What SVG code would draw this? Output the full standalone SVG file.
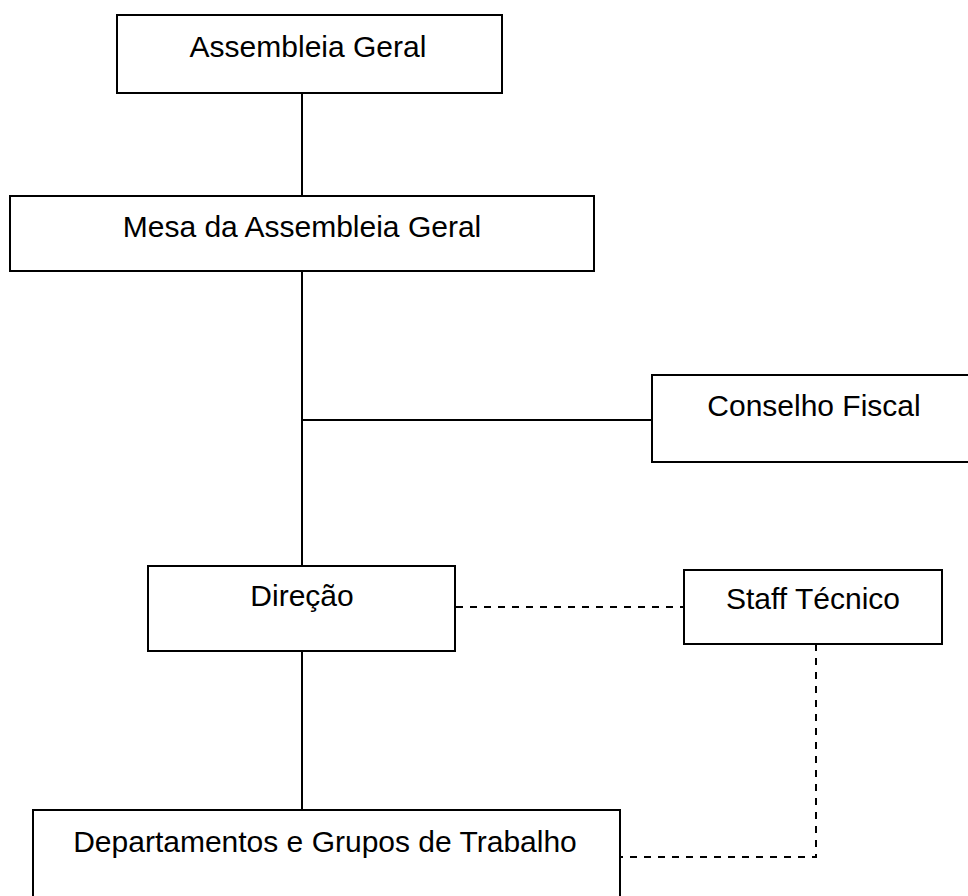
<svg xmlns="http://www.w3.org/2000/svg" width="968" height="896" viewBox="0 0 968 896">
<style>
.box{fill:#fff;stroke:#000;stroke-width:2}
.lbl{font-family:"Liberation Sans",Arial,sans-serif;font-size:30px;fill:#000;text-anchor:middle}
.solid{fill:none;stroke:#000;stroke-width:2}
.dash{fill:none;stroke:#000;stroke-width:2;stroke-dasharray:7 7}
</style>
<rect width="968" height="896" fill="#fff"/>
<g id="connectors">
<line class="solid" x1="302" y1="93" x2="302" y2="196"/>
<line class="solid" x1="302" y1="271" x2="302" y2="566"/>
<line class="solid" x1="302" y1="420" x2="652" y2="420"/>
<line class="solid" x1="302" y1="651" x2="302" y2="810"/>
<line class="dash" x1="456" y1="607" x2="684" y2="607"/>
<polyline class="dash" points="816,644 816,857 621,857"/>
</g>
<g id="assembleia-geral">
<rect class="box" x="117" y="15" width="385" height="78"/>
<text class="lbl" x="308" y="57">Assembleia Geral</text>
</g>
<g id="mesa-assembleia-geral">
<rect class="box" x="10" y="196" width="584" height="75"/>
<text class="lbl" x="302" y="237">Mesa da Assembleia Geral</text>
</g>
<g id="conselho-fiscal">
<rect class="box" x="652" y="375" width="330" height="87"/>
<text class="lbl" x="814" y="416">Conselho Fiscal</text>
</g>
<g id="direcao">
<rect class="box" x="148" y="566" width="307" height="85"/>
<text class="lbl" x="302" y="606">Direção</text>
</g>
<g id="staff-tecnico">
<rect class="box" x="684" y="570" width="258" height="74"/>
<text class="lbl" x="813" y="609">Staff Técnico</text>
</g>
<g id="departamentos">
<rect class="box" x="33" y="810" width="587" height="100"/>
<text class="lbl" x="325" y="852">Departamentos e Grupos de Trabalho</text>
</g>
</svg>
